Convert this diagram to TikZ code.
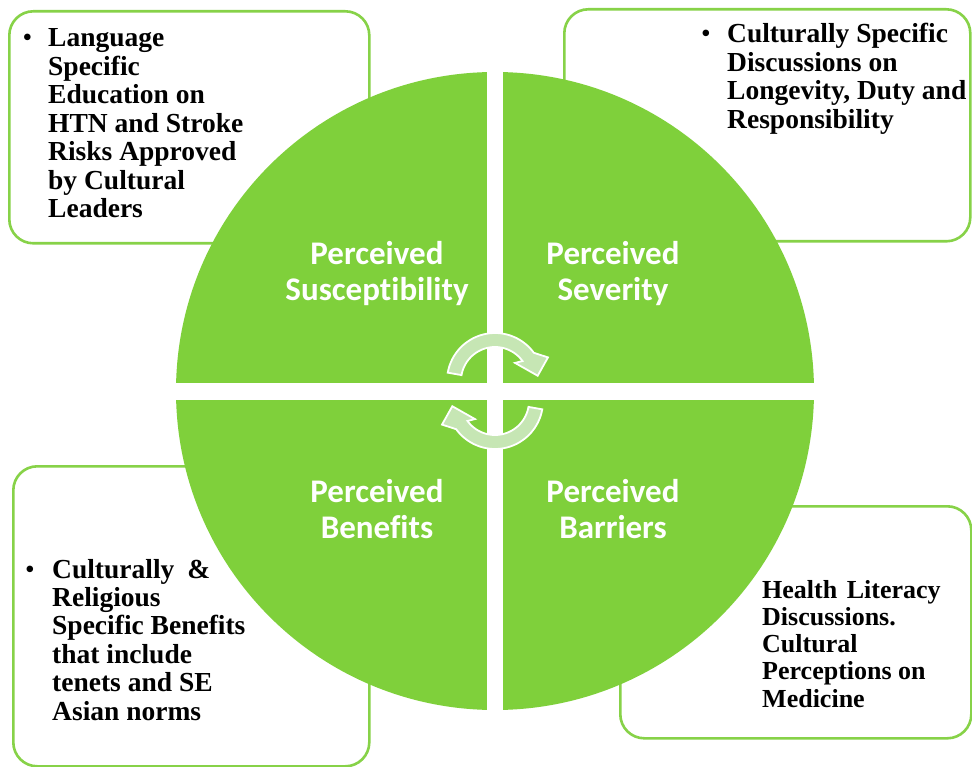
\documentclass[tikz,border=0pt]{standalone}
\usepackage{fontspec}
\setmainfont{Liberation Serif}
\newfontfamily\quadfont[Ligatures=NoCommon]{Carlito}
\definecolor{quadgreen}{RGB}{127,208,59}
\definecolor{boxgreen}{RGB}{135,210,72}
\definecolor{arrowgreen}{RGB}{198,230,180}
\tikzset{
 infobox/.style={draw=boxgreen, line width=2.6pt, rounded corners=24pt, fill=white, inner sep=0pt, anchor=north west},
 quadlabel/.style={text=white, font=\quadfont\bfseries\fontsize{33}{37}\selectfont, anchor=base, inner sep=0pt},
 boxtext/.style={font=\bfseries\fontsize{27.5}{28.5}\selectfont, anchor=base west, inner sep=0pt},
 smalltext/.style={font=\bfseries\fontsize{26}{27}\selectfont, anchor=base west, inner sep=0pt},
 bulletmark/.style={font=\fontsize{27.5}{28.5}\selectfont, anchor=base, inner sep=0pt},
 cyclearrow/.style={fill=arrowgreen, draw=white, line width=1.8pt, line join=miter}
}
\begin{document}
\begin{tikzpicture}[x=1pt,y=-1pt]
\fill[white] (0,0) rectangle (972,767);
\useasboundingbox (0,0) rectangle (972,767);

% boxes
\node[infobox, minimum width=360pt, minimum height=232pt] (tlbox) at (8,10) {};
\node[infobox, minimum width=406pt, minimum height=232pt] (trbox) at (563,8) {};
\node[infobox, minimum width=356pt, minimum height=300pt] (blbox) at (12,465) {};
\node[infobox, minimum width=351pt, minimum height=232pt] (brbox) at (619,505) {};

% quadrants
\begin{scope}
\clip (495,391) circle[radius=319pt];
\fill[quadgreen] (170,60) rectangle (487,383);
\fill[quadgreen] (503,60) rectangle (820,383);
\fill[quadgreen] (170,400) rectangle (487,720);
\fill[quadgreen] (503,400) rectangle (820,720);
\end{scope}

% cycle arrows
\fill[cyclearrow]
  plot[domain=190:324, samples=40, variable=\a] ({495+48*cos(\a)},{381+48*sin(\a)})
  -- ({495+58*cos(336)},{381+58*sin(336)})
  -- ({495+43*cos(353)},{381+43*sin(353)})
  -- ({495+27*cos(318)},{381+27*sin(318)})
  -- plot[domain=324:190, samples=40, variable=\a] ({495+34*cos(\a)},{381+34*sin(\a)})
  -- cycle;
\fill[cyclearrow]
  plot[domain=10:144, samples=40, variable=\a] ({495+48*cos(\a)},{401+48*sin(\a)})
  -- ({495+58*cos(156)},{401+58*sin(156)})
  -- ({495+43*cos(173)},{401+43*sin(173)})
  -- ({495+27*cos(138)},{401+27*sin(138)})
  -- plot[domain=144:10, samples=40, variable=\a] ({495+34*cos(\a)},{401+34*sin(\a)})
  -- cycle;

% quadrant labels
\node[quadlabel] (sus1) at (377,265) {Perceived};
\node[quadlabel] (sus2) at (377,301) {Susceptibility};
\node[quadlabel] (sev1) at (613,265) {Perceived};
\node[quadlabel] (sev2) at (613,301) {Severity};
\node[quadlabel] (ben1) at (377,502) {Perceived};
\node[quadlabel] (ben2) at (377,538) {Benefits};
\node[quadlabel] (bar1) at (613,502) {Perceived};
\node[quadlabel] (bar2) at (613,538) {Barriers};

% top-left text
\node[bulletmark] (tlbullet) at (27.5,46.7) {•};
\foreach \t [count=\i from 0] in {Language, Specific, Education on, HTN and Stroke, Risks Approved, by Cultural, Leaders}
  \node[boxtext] (tl\i) at (48,{46.7+28.5*\i}) {\t};

% top-right text
\node[bulletmark] (trbullet) at (706,43) {•};
\foreach \t [count=\i from 0] in {Culturally Specific, Discussions on, {Longevity, Duty and}, Responsibility}
  \node[boxtext] (tr\i) at (727,{43+28.5*\i}) {\t};

% bottom-left text
\node[bulletmark] (blbullet) at (30,578) {•};
\foreach \t [count=\i from 0] in {{Culturally\hspace{6pt} \&}, Religious, Specific Benefits, that include, tenets and SE, Asian norms}
  \node[boxtext] (bl\i) at (52,{578+28.4*\i}) {\t};

% bottom-right text
\foreach \t [count=\i from 0] in {{Health\hspace{3pt} Literacy}, Discussions., Cultural, Perceptions on, Medicine}
  \node[smalltext] (br\i) at (762,{598+27.3*\i}) {\t};
\end{tikzpicture}
\end{document}
